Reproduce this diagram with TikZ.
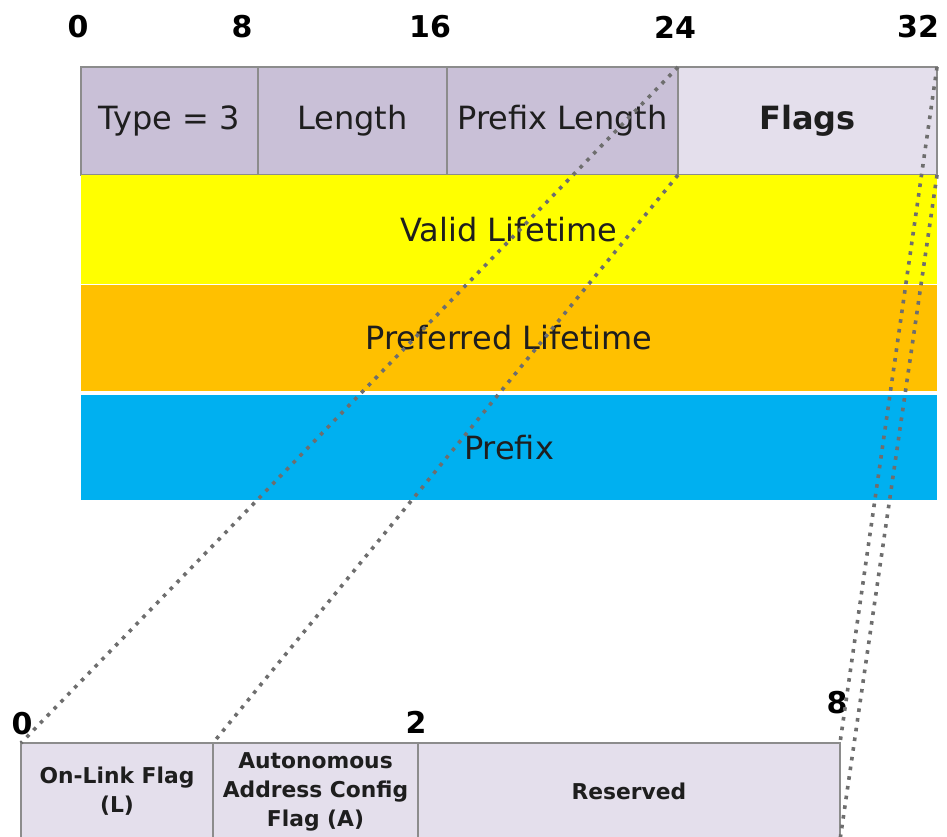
\documentclass[tikz,border=0pt]{standalone}
\usepackage{fontspec}
\setmainfont{DejaVu Sans}
\definecolor{fieldpurple}{RGB}{201,192,215}
\definecolor{fieldlight}{RGB}{228,223,236}
\definecolor{bandyellow}{RGB}{255,255,0}
\definecolor{bandorange}{RGB}{255,192,0}
\definecolor{bandblue}{RGB}{0,176,240}
\definecolor{edgegray}{RGB}{140,140,140}
\definecolor{dotgray}{RGB}{110,110,110}
\definecolor{ink}{RGB}{30,30,30}
\tikzset{
  field/.style={draw=edgegray, line width=1.2pt, anchor=north west, inner sep=0pt, outer sep=0pt,
    minimum height=108pt, font=\fontsize{32}{38}\selectfont, text=ink},
  band/.style={anchor=north west, inner sep=0pt, outer sep=0pt, minimum width=856pt,
    font=\fontsize{32}{38}\selectfont, text=ink},
  flagfield/.style={draw=edgegray, line width=1.5pt, fill=fieldlight, anchor=north west,
    inner sep=0pt, outer sep=0pt, minimum height=97pt, align=center, text=ink,
    font=\bfseries\fontsize{21.8}{29}\selectfont},
  bitmark/.style={font=\bfseries\fontsize{30}{35}\selectfont, inner sep=0pt, text=black},
  zoomline/.style={dotgray, line width=3.6pt, dash pattern=on 3.6pt off 6.2pt},
}
\begin{document}
\begin{tikzpicture}[x=1pt, y=-1pt]
\useasboundingbox (0,0) rectangle (947,836);
\clip (0,0) rectangle (947,836);
\fill[white] (0,0) rectangle (947,836);

% option header: type, length, prefix length, flags
\node[field, fill=fieldpurple, minimum width=177pt] (type) at (81,67) {Type = 3};
\node[field, fill=fieldpurple, minimum width=189pt] (len) at (258,67) {Length};
\node[field, fill=fieldpurple, minimum width=231pt] (plen) at (447,67) {Prefix Length};
\node[field, fill=fieldlight, minimum width=259pt, font=\bfseries\fontsize{32}{38}\selectfont] (flags) at (678,67) {Flags};

% 32-bit words
\node[band, fill=bandyellow, minimum height=109pt] (valid) at (81,175) {Valid Lifetime};
\node[band, fill=bandorange, minimum height=106pt] (pref) at (81,285) {Preferred Lifetime};
\node[band, fill=bandblue, minimum height=105pt] (prefix) at (81,395) {Prefix};

% expanded flags byte
\node[flagfield, minimum width=192pt] (onlink) at (21,743) {On-Link Flag\\(L)};
\node[flagfield, minimum width=205pt] (auto) at (213,743) {Autonomous\\Address Config\\Flag (A)};
\node[flagfield, minimum width=422pt] (resv) at (418,743) {Reserved};

% bit offsets
\node[bitmark] (b0) at (78,27) {0};
\node[bitmark] (b8) at (242,27) {8};
\node[bitmark] (b16) at (430,27) {16};
\node[bitmark] (b24) at (675,27) {24};
\node[bitmark] (b32) at (918,27) {32};
\node[bitmark] (f0) at (22,724) {0};
\node[bitmark] (f2) at (416,722) {2};
\node[bitmark] (f8) at (837,703) {8};

% zoom lines from the flags field to its breakdown
\draw[zoomline] (flags.north west) -- (onlink.north west);
\draw[zoomline] (flags.south west) -- (auto.north west);
\draw[zoomline] (flags.north east) -- (resv.north east);
\draw[zoomline] (flags.south east) -- (resv.south east);
\end{tikzpicture}
\end{document}
